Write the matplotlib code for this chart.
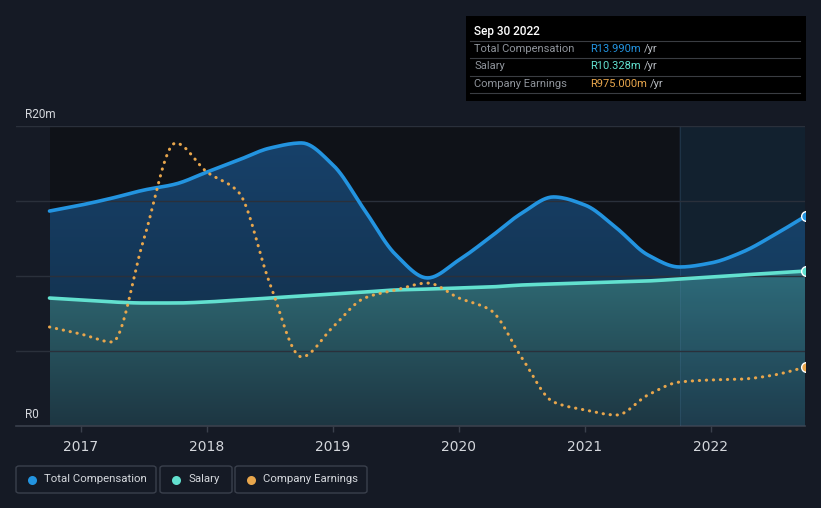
import numpy as np
import matplotlib
matplotlib.use("Agg")
import matplotlib.pyplot as plt
from matplotlib.patches import PathPatch, Rectangle, FancyBboxPatch
from matplotlib.colors import to_rgba

plt.rcParams['font.family'] = ['Roboto', 'DejaVu Sans']

# quarterly points, Sep 2016 .. Sep 2022 (R millions)
dates = [2016.75 + 0.25 * i for i in range(25)]
total_comp = [14.33, 14.73, 15.2, 15.73, 16.13, 16.93, 17.73, 18.53, 18.87, 17.4,
              14.4, 11.4, 9.87, 11.07, 12.6, 14.2, 15.27, 14.73, 13.2, 11.4,
              10.6, 10.87, 11.6, 12.73, 13.99]
salary = [8.53, 8.4, 8.27, 8.2, 8.2, 8.27, 8.4, 8.53, 8.67, 8.8,
          8.93, 9.07, 9.13, 9.2, 9.27, 9.4, 9.47, 9.53, 9.6, 9.67,
          9.8, 9.93, 10.07, 10.2, 10.33]
earnings = [6.6, 6.13, 5.6, 12.5, 18.87, 16.93, 15.6, 9.47, 4.6, 6.6,
            8.53, 9.07, 9.53, 8.53, 7.73, 4.53, 1.6, 1.07, 0.73, 2.07,
            2.93, 3.07, 3.13, 3.4, 3.93]
year_ticks = [2017, 2018, 2019, 2020, 2021, 2022]
highlight_start = 2021.75

BG = '#151a25'
DARK = '#0f1218'
TC_COL = '#2394e0'
SAL_COL = '#62e0cf'
EARN_COL = '#e8a64c'
TXT = '#d4d7dc'
GRID = '#2a303b'

W, H = 821, 508
fig = plt.figure(figsize=(W / 100, H / 100), dpi=100, facecolor=BG)


def fx(px):
    return px / W


def fy(py):
    return 1 - py / H


def smooth(x, y, n=12):
    # monotone cubic (like d3 curveMonotoneX), only for drawing the curve
    x = np.asarray(x, float)
    y = np.asarray(y, float)
    h = np.diff(x)
    d = np.diff(y) / h
    m = np.zeros_like(y)
    m[0], m[-1] = d[0], d[-1]
    for i in range(1, len(y) - 1):
        if d[i - 1] * d[i] > 0:
            w1 = 2 * h[i] + h[i - 1]
            w2 = h[i] + 2 * h[i - 1]
            m[i] = (w1 + w2) / (w1 / d[i - 1] + w2 / d[i])
    xs, ys = [], []
    for i in range(len(x) - 1):
        t = np.linspace(0, 1, n, endpoint=False)
        h00 = 2 * t**3 - 3 * t**2 + 1
        h10 = t**3 - 2 * t**2 + t
        h01 = -2 * t**3 + 3 * t**2
        h11 = t**3 - t**2
        xs.append(x[i] + t * h[i])
        ys.append(h00 * y[i] + h10 * h[i] * m[i] + h01 * y[i + 1] + h11 * h[i] * m[i + 1])
    xs.append([x[-1]])
    ys.append([y[-1]])
    return np.concatenate(xs), np.concatenate(ys)


ax = fig.add_axes([fx(16), fy(426), fx(805) - fx(16), fy(126) - fy(426)])
ax.set_facecolor(BG)
x0 = 2017 + (16 - 81) / 126
x1 = 2017 + (805 - 81) / 126
ax.set_xlim(x0, x1)
ax.set_ylim(0, 20)

ax.axvspan(dates[0], highlight_start, color=DARK, zorder=0, lw=0)
ax.axvspan(highlight_start, x1, color='#101821', zorder=0, lw=0)


def grad_fill(x, y, top, bottom, z):
    poly = ax.fill_between(x, y, 0, facecolor='none', edgecolor='none')
    patch = PathPatch(poly.get_paths()[0], facecolor='none', edgecolor='none',
                      transform=ax.transData)
    ax.add_patch(patch)
    ymax = max(y)
    c0 = np.array(to_rgba(bottom))
    c1 = np.array(to_rgba(top))
    t = np.linspace(0, 1, 256).reshape(-1, 1, 1)
    img = c0 + (c1 - c0) * t
    img = np.repeat(img, 2, axis=1)
    im = ax.imshow(img, extent=[x[0], x[-1], 0, ymax], aspect='auto',
                   origin='lower', zorder=z, interpolation='bilinear')
    im.set_clip_path(patch)


tc_x, tc_y = smooth(dates, total_comp)
sal_x, sal_y = smooth(dates, salary)
earn_x, earn_y = smooth(dates, earnings)

grad_fill(tc_x, tc_y, '#17416a', '#112a40', 1)
grad_fill(sal_x, sal_y, '#2f6a74', '#1d3642', 2)
ax.set_xlim(x0, x1)
ax.set_ylim(0, 20)

# highlight band over the fills
ax.axvspan(highlight_start, x1, color='#2a80c0', alpha=0.09, zorder=3, lw=0)
ax.axvline(highlight_start, color='#5a88b0', alpha=0.18, lw=0.8, zorder=3)

for v in [5, 10, 15, 20]:
    ax.axhline(v, color=GRID, lw=1, zorder=3.5)

ax.plot(tc_x, tc_y, color=TC_COL, lw=2.6, zorder=5, solid_capstyle='round')
ax.plot(sal_x, sal_y, color=SAL_COL, lw=2.6, zorder=5, solid_capstyle='round')
ax.plot(earn_x, earn_y, color=EARN_COL, lw=2.2, zorder=6,
        linestyle=(0, (0.1, 2.2)), dash_capstyle='round')

for ser, col in [(total_comp, TC_COL), (salary, SAL_COL), (earnings, EARN_COL)]:
    ax.plot(dates[-1], ser[-1], 'o', ms=7, mfc=col, mec='white', mew=1, zorder=7)

for s in ['top', 'right', 'left']:
    ax.spines[s].set_visible(False)
ax.spines['bottom'].set_color('#3a404c')
ax.spines['bottom'].set_linewidth(1.2)
ax.set_yticks([])
ax.set_xticks(year_ticks)
ax.set_xticklabels([str(y) for y in year_ticks])
ax.tick_params(axis='x', colors='#3a404c', length=4, width=1, pad=6,
               labelcolor=TXT, labelsize=10)
for lab in ax.get_xticklabels():
    lab.set_family(['Liberation Sans Narrow', 'DejaVu Sans'])

fig.text(fx(25), fy(114), 'R20m', color=TXT, fontsize=8.5, va='center', ha='left')
fig.text(fx(25), fy(414), 'R0', color=TXT, fontsize=8.5, va='center', ha='left')

# tooltip box
fig.patches.append(Rectangle((fx(466), fy(101)), fx(806) - fx(466), fy(16) - fy(101),
                             transform=fig.transFigure, facecolor='#000000',
                             edgecolor='none', zorder=10))
fig.text(fx(474), fy(31), 'Sep 30 2022', color='white', fontsize=8.5,
         fontweight='medium', va='center', zorder=11)
for sy in [41, 58, 76, 93]:
    fig.add_artist(plt.Line2D([fx(470), fx(800)], [fy(sy), fy(sy)], color='#3a3d42',
                              lw=0.8, transform=fig.transFigure, zorder=11))
rows = [('Total Compensation', 'R13.990m', TC_COL, 49),
        ('Salary', 'R10.328m', SAL_COL, 66),
        ('Company Earnings', 'R975.000m', EARN_COL, 84)]
for label, val, col, ry in rows:
    fig.text(fx(474), fy(ry), label, color='#8f949b', fontsize=8, va='center', zorder=11)
    t = fig.text(fx(590), fy(ry), val, color=col, fontsize=8, va='center', zorder=11)
    fig.canvas.draw()
    bb = t.get_window_extent()
    fig.text(bb.x1 / W + fx(3), fy(ry), '/yr', color='#b8bcc2', fontsize=8,
             va='center', zorder=11)

# legend boxes
legend = [('Total Compensation', TC_COL, 16, 156),
          ('Salary', SAL_COL, 160, 232),
          ('Company Earnings', EARN_COL, 235, 367)]
for label, col, lx0, lx1 in legend:
    fig.patches.append(FancyBboxPatch((fx(lx0), fy(493)), fx(lx1) - fx(lx0), fy(466) - fy(493),
                                      boxstyle='round,pad=0,rounding_size=0.004',
                                      transform=fig.transFigure, facecolor='none',
                                      edgecolor='#3a404c', lw=1))
    fig.add_artist(plt.Line2D([fx(lx0 + 16)], [fy(479.5)], marker='o', ms=6.5,
                              mfc=col, mec='none', transform=fig.transFigure))
    fig.text(fx(lx0 + 28), fy(479.5), label, color=TXT, fontsize=8.2, va='center')

fig.savefig('out.png', dpi=100, facecolor=BG)
